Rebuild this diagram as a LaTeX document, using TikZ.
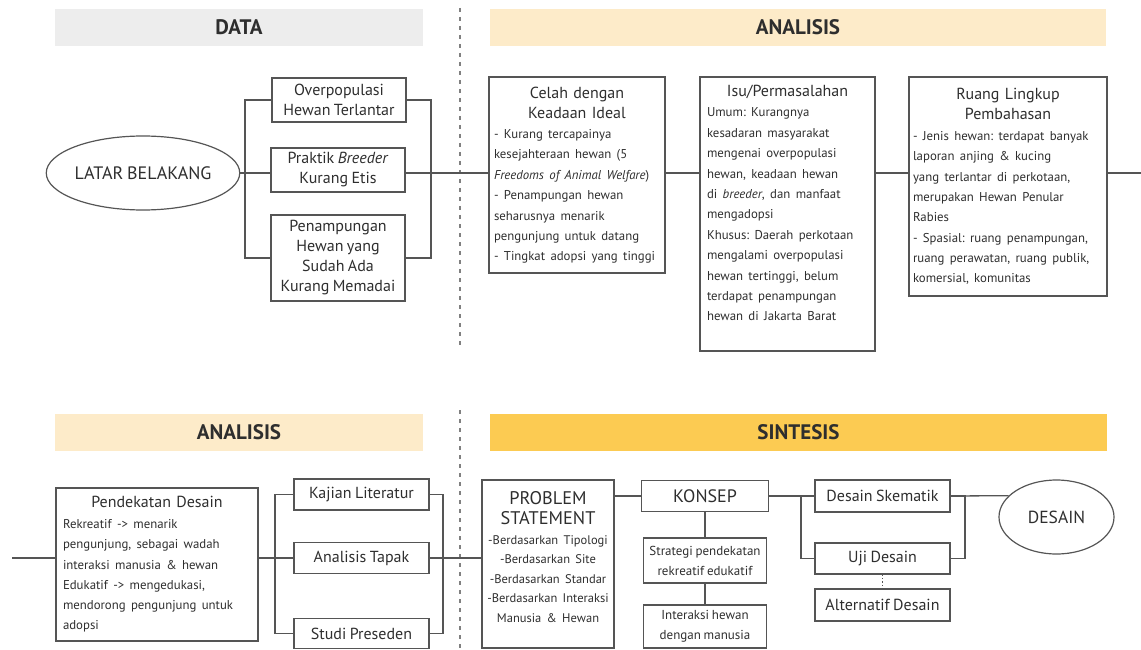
\documentclass[tikz,border=0pt]{standalone}
\usepackage{fontspec}
\setmainfont{PT Sans}[WordSpace=0.8]
\usetikzlibrary{shapes.geometric}
\frenchspacing

\definecolor{datagray}{HTML}{EDEDED}
\definecolor{analisisbg}{HTML}{FDEBC9}
\definecolor{sintesisbg}{HTML}{FCCB52}
\definecolor{linegray}{HTML}{555555}
\definecolor{textgray}{HTML}{2E2E2E}

\newcommand{\boxhead}[1]{{\centering\fontsize{16}{20}\selectfont #1\par}}
\newcommand{\bodyfont}{\fontsize{12.8}{20.4}\selectfont}

\tikzset{
	hdr/.style={minimum height=37pt, inner sep=0pt, text=textgray, font=\fontsize{21}{24}\selectfont\bfseries},
	box/.style={draw=linegray, line width=1.4pt, inner sep=0pt, text=textgray, font=\fontsize{16}{20}\selectfont, align=center},
	textbox/.style={box, align=left},
	oval/.style={ellipse, draw=linegray, line width=1.2pt, inner sep=0pt, text=textgray, font=\fontsize{18}{20}\selectfont},
	link/.style={linegray, line width=1.3pt},
	divider/.style={gray, line width=1.2pt, dash pattern=on 4pt off 5pt}
}

\begin{document}
\begin{tikzpicture}[x=1pt, y=-1pt]
	\useasboundingbox (0,0) rectangle (1141,650);

	% Headers
	\node[hdr, fill=datagray, minimum width=368pt] (hdata) at (239,27.5) {DATA};
	\node[hdr, fill=analisisbg, minimum width=616pt] (hanalisis) at (798,27.5) {ANALISIS};
	\node[hdr, fill=analisisbg, minimum width=368pt] (hanalisisb) at (239,432.5) {ANALISIS};
	\node[hdr, fill=sintesisbg, minimum width=617pt] (hsintesis) at (798.5,432.5) {SINTESIS};

	% Dividers
	\draw[divider] (460,8) -- (460,349);
	\draw[divider] (460,410) -- (460,650);

	% Data
	\node[oval, minimum width=176pt, minimum height=74pt] (latar) at (143,173) {LATAR BELAKANG};
	\node[box, minimum width=134pt, minimum height=44pt] (over) at (339,100) {Overpopulasi\\Hewan Terlantar};
	\node[box, minimum width=134pt, minimum height=44pt] (praktik) at (338,170) {Praktik \textit{Breeder}\\Kurang Etis};
	\node[box, minimum width=134pt, minimum height=86pt] (pen) at (338,258) {Penampungan\\Hewan yang\\Sudah Ada\\Kurang Memadai};
	\coordinate (brl) at (245,173);
	\coordinate (brr) at (431,173);
	\draw[link] (over.west) -| (brl) |- (pen.west);
	\draw[link] (over.east) -| (brr) |- (pen.east);

	% Analisis (top row)
	\node[textbox, text width=166pt, minimum width=176pt, minimum height=196pt] (celah) at (577,175) {%
		\boxhead{Celah dengan\\Keadaan Ideal}
		\bodyfont - Kurang tercapainya\\
		kesejahteraan hewan (5\\
		\textit{Freedoms of Animal Welfare})\\
		- Penampungan hewan\\
		seharusnya menarik\\
		pengunjung untuk datang\\
		- Tingkat adopsi yang tinggi};
	\node[textbox, text width=161pt, minimum width=175pt, minimum height=274pt] (isu) at (787.5,214) {%
		\boxhead{Isu/Permasalahan}
		\bodyfont Umum: Kurangnya\\
		kesadaran masyarakat\\
		mengenai overpopulasi\\
		hewan, keadaan hewan\\
		di \textit{breeder}, dan manfaat\\
		mengadopsi\\
		Khusus: Daerah perkotaan\\
		mengalami overpopulasi\\
		hewan tertinggi, belum\\
		terdapat penampungan\\
		hewan di Jakarta Barat\par\vspace{22pt}};
	\node[textbox, text width=190pt, minimum width=198pt, minimum height=219pt] (ruang) at (1008,186.5) {%
		\boxhead{Ruang Lingkup\\Pembahasan}
		\bodyfont - Jenis hewan: terdapat banyak\\
		laporan anjing \& kucing\\
		yang terlantar di perkotaan,\\
		merupakan Hewan Penular\\
		Rabies\\
		- Spasial: ruang penampungan,\\
		ruang perawatan, ruang publik,\\
		komersial, komunitas};
	\coordinate (outr) at (1141,173);

	% Top row links
	\draw[link] (latar.east) -- (latar -| praktik.west);
	\draw[link] (latar -| praktik.east) -- (latar -| celah.west);
	\draw[link] (latar -| celah.east) -- (latar -| isu.west);
	\draw[link] (latar -| isu.east) -- (latar -| ruang.west);
	\draw[link] (latar -| ruang.east) -- (outr);

	% Analisis (bottom row)
	\coordinate (inl) at (12,558);
	\node[textbox, text width=188pt, minimum width=202pt, minimum height=153pt] (pendekatan) at (157,564.5) {%
		\boxhead{Pendekatan Desain}
		\bodyfont Rekreatif -> menarik\\
		pengunjung, sebagai wadah\\
		interaksi manusia \& hewan\\
		Edukatif -> mengedukasi,\\
		mendorong pengunjung untuk\\
		adopsi};
	\node[box, minimum width=135pt, minimum height=31pt] (kajian) at (361.5,494.5) {Kajian Literatur};
	\node[box, minimum width=135pt, minimum height=31pt] (tapak) at (361.5,558) {Analisis Tapak};
	\node[box, minimum width=135pt, minimum height=30pt] (preseden) at (361.5,633.5) {Studi Preseden};
	\coordinate (bbl) at (275,558);
	\coordinate (bbr) at (443,558);
	\draw[link] (kajian.west) -| (bbl) |- (preseden.west);
	\draw[link] (kajian.east) -| (bbr) |- (preseden.east);
	\draw[link] (inl) -- (inl -| pendekatan.west);
	\draw[link] (tapak -| pendekatan.east) -- (tapak.west);

	% Sintesis
	\node[box, text width=128pt, minimum width=132pt, minimum height=168pt] (ps) at (548,564) {%
		{\fontsize{18.3}{20}\selectfont PROBLEM\\STATEMENT\par}
		\fontsize{12.5}{19.5}\selectfont -Berdasarkan Tipologi\\
		-Berdasarkan Site\\
		-Berdasarkan Standar\\
		-Berdasarkan Interaksi\\
		Manusia \& Hewan\par\vspace{14pt}};
	\node[box, font=\fontsize{18}{20}\selectfont, minimum width=127pt, minimum height=31pt] (konsep) at (705,496) {KONSEP};
	\node[box, font=\fontsize{13}{20}\selectfont, minimum width=123pt, minimum height=45pt] (strategi) at (705,560.5) {Strategi pendekatan\\rekreatif edukatif};
	\node[box, font=\fontsize{13}{20}\selectfont, minimum width=123pt, minimum height=43pt] (interaksi) at (705,626.5) {Interaksi hewan\\dengan manusia};
	\draw[link] (tapak.east) -- (tapak -| ps.west);
	\draw[link] (konsep.west) -- (konsep -| ps.east);
	\draw[link] (konsep) -- (strategi);
	\draw[link] (strategi) -- (interaksi);

	\node[box, minimum width=135pt, minimum height=32pt] (skematik) at (882.5,496) {Desain Skematik};
	\node[box, minimum width=135pt, minimum height=31pt] (uji) at (882.5,558.5) {Uji Desain};
	\node[box, minimum width=135pt, minimum height=32pt] (alternatif) at (882.5,605) {Alternatif Desain};
	\node[oval, font=\fontsize{17.5}{20}\selectfont, minimum width=115pt, minimum height=74pt] (desain) at (1056.5,517) {DESAIN};
	\coordinate (sbl) at (801,496);
	\coordinate (sbr) at (965,496);
	\draw[link] (konsep.east) -- (skematik.west);
	\draw[link] (skematik.west) -| (sbl) |- (uji.west);
	\draw[link] (skematik.east) -| (sbr) |- (uji.east);
	\draw[link] (skematik.east) -- (desain.156);
	\draw[link, dotted] (uji.south) -- (alternatif.north);
\end{tikzpicture}
\end{document}
